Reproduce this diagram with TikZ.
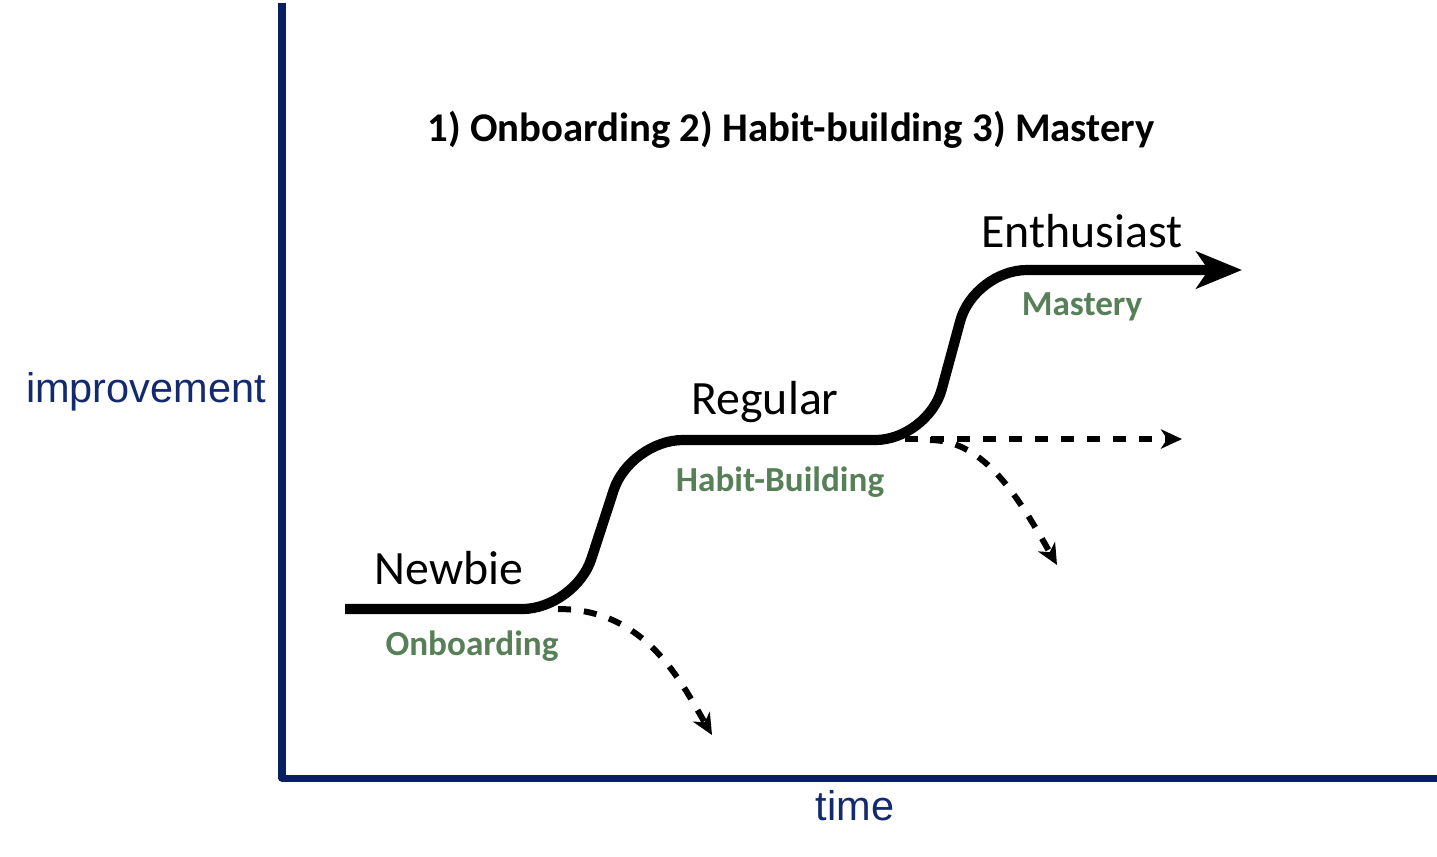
\documentclass[tikz,border=0pt]{standalone}
\usepackage{fontspec}
\setmainfont{Carlito}
\newfontfamily\axisfont{Liberation Sans}
\usetikzlibrary{arrows.meta, positioning}
\definecolor{axisnavy}{RGB}{8,32,98}
\definecolor{labelnavy}{RGB}{20,42,110}
\definecolor{stagegreen}{RGB}{88,128,88}
\tikzset{
  % --- axes ---
  axisline/.style={line width=2pt, draw=axisnavy, line join=round},
  axislabel/.style={font=\axisfont\fontsize{11.8}{14}\selectfont, text=labelnavy, inner sep=0pt},
  % --- growth curve and drop-outs ---
  growth/.style={line width=2.9pt, rounded corners=15pt,
    -{Stealth[length=13pt, width=10.5pt, inset=3.5pt]}},
  dropout/.style={line width=1.7pt, dash pattern=on 3.7pt off 3.7pt,
    -{Stealth[length=6pt, width=5.5pt, inset=1.8pt]}},
  % --- labels ---
  levellabel/.style={font=\fontsize{13.6}{16}\selectfont, inner sep=0pt},
  stagelabel/.style={font=\fontsize{10}{12}\selectfont\bfseries, text=stagegreen, inner sep=0pt},
  titlelabel/.style={font=\fontsize{11.6}{14}\selectfont\bfseries, inner sep=0pt},
}

\begin{document}
\begin{tikzpicture}[x=0.01cm, y=-0.01cm]
    \useasboundingbox (0,0) rectangle (1437,856);
    % ---- Axes ----
    \coordinate (axtop) at (282,3);
    \coordinate (origin) at (282,778);
    \coordinate (axend) at (1437,778);
    \draw[axisline] (axtop) -- (origin) -- (axend);
    \node[axislabel] (ylab) at (146,392) {improvement};
    \node[axislabel] (xlab) at (855,806) {time};
    % ---- Title ----
    \node[titlelabel] (title) at (791,130) {1) Onboarding 2) Habit-building 3) Mastery};
    % ---- Growth curve ----
    \coordinate (start) at (345,609);
    \coordinate (rise1) at (575,609);
    \coordinate (top1) at (630,440);
    \coordinate (rise2) at (928,440);
    \coordinate (top2) at (974,270);
    \coordinate (tip) at (1242,270);
    \draw[growth] (start) -- (rise1) -- (top1) -- (rise2) -- (top2) -- (tip);
    % ---- Drop-outs ----
    \coordinate (drop1) at (712,735);
    \coordinate (stay2) at (1182,439);
    \coordinate (drop2) at (1057,565);
    \draw[dropout] (558,609) .. controls (645,609) and (680,680) .. (drop1);
    \draw[dropout] (905,439) -- (stay2);
    \draw[dropout] (930,440) .. controls (985,440) and (1020,500) .. (drop2);
    % ---- Levels ----
    \node[levellabel] (newbie) at (449,568) {Newbie};
    \node[stagelabel] (onboard) at (472,646) {Onboarding};
    \node[levellabel] (regular) at (765,402) {Regular};
    \node[stagelabel] (habit) at (780,482) {Habit-Building};
    \node[levellabel] (enthus) at (1082,231) {Enthusiast};
    \node[stagelabel] (mastery) at (1082,307) {Mastery};
  \end{tikzpicture}
\end{document}
